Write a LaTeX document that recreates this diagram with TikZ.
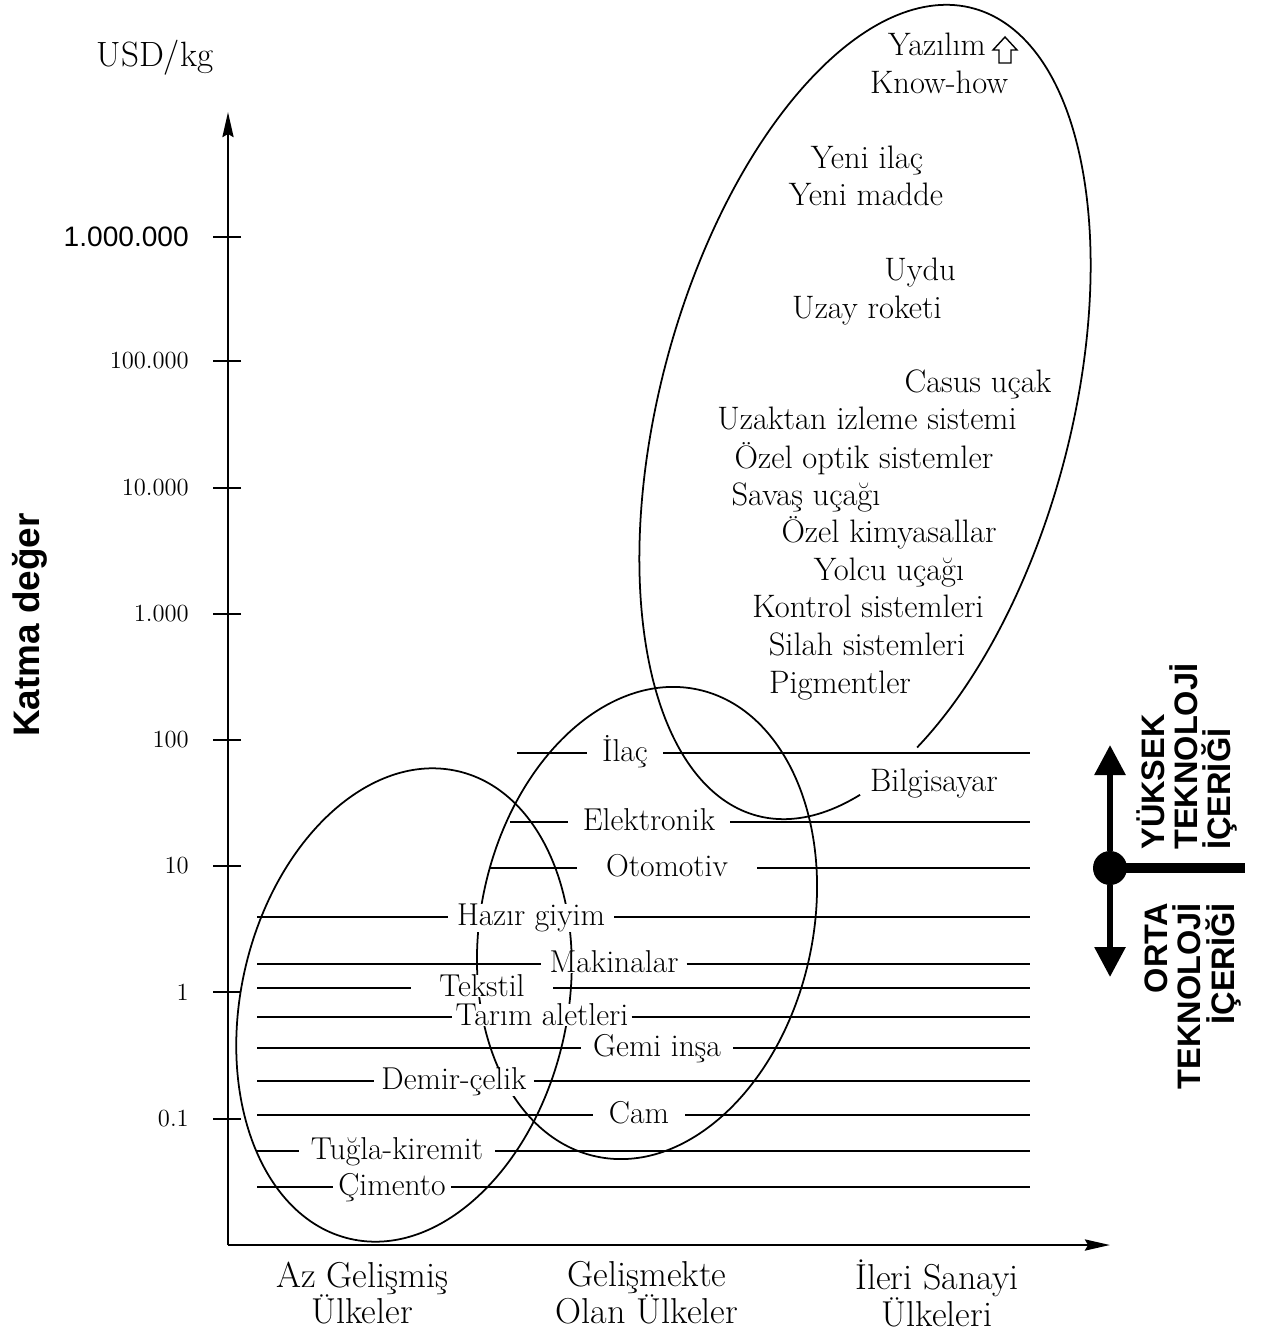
\documentclass[tikz,border=0pt]{standalone}
\usepackage{fontspec}
\usepackage{tikz}
\usetikzlibrary{arrows.meta}
\newfontfamily\headfont{Liberation Sans}

\begin{document}
\begin{tikzpicture}[x=0.02cm, y=-0.02cm,
  curve/.style={line width=1pt},
  row/.style={line width=1pt},
  axis/.style={line width=1.6pt, -{Stealth[length=0.5cm, width=0.22cm, inset=0.06cm]}},
  tick/.style={line width=1pt},
  ticklabel/.style={anchor=east, xshift=-0.35cm, font=\fontsize{14}{16}\selectfont},
  item/.style={fill=white, inner ysep=0pt, anchor=mid, yshift=-0.1cm, font=\fontsize{18}{20}\selectfont},
  tech/.style={anchor=mid, yshift=-0.1cm, font=\fontsize{18.5}{20}\selectfont},
  group/.style={align=center, font=\fontsize{20.5}{21}\selectfont},
  pointer/.style={line width=3.4pt, -{Triangle[length=0.6cm, width=0.6cm]}},
  techhead/.style={inner sep=0pt, font=\headfont\bfseries\fontsize{18.5}{19}\selectfont}]
\useasboundingbox (0,0) rectangle (1261,1334);

\draw[curve, rotate around={-13:(404,1005)}] (404,1005) ellipse[x radius=3.26cm, y radius=4.8cm];
\draw[curve, rotate around={-12.4:(647,923)}] (647,923) ellipse[x radius=3.32cm, y radius=4.78cm];
\draw[curve, shift={(865,412)}, rotate=-15] (-48:4.1cm and 8.36cm)
  arc[start angle=-48, end angle=297.4, x radius=4.1cm, y radius=8.36cm];

\coordinate (O) at (228,1245);
\coordinate (ytip) at (228,112);
\coordinate (xtip) at (1110,1245);
\draw[axis] (O) -- (ytip);
\draw[axis] (O) -- (xtip);
\foreach \y/\v in {237/{\headfont\fontsize{16}{18}\selectfont 1.000.000},361/100.000,488/10.000,614/1.000,740/100,866/10,992/1,1119/0.1}
    \draw[tick] (241,\y) -- (213,\y) node[ticklabel] {\v};

\node[font=\fontsize{20}{22}\selectfont] (unit) at (155,58) {USD/kg};
\node[rotate=90, font=\headfont\bfseries\fontsize{21}{24}\selectfont] (ylab) at (30,625) {Katma değer};
\node[group] (az) at (362,1293) {Az Gelişmiş\\Ülkeler};
\node[group] (gel) at (647,1293) {Gelişmekte\\Olan Ülkeler};
\node[group] (ileri) at (937,1293) {İleri Sanayi\\Ülkeleri};

\foreach \name/\lx/\y/\cx/\txt/\gap in {ilac/517/753/625/İlaç/8.5pt,
    elek/510/822/649/Elektronik/8.5pt, oto/490/868/667/Otomotiv/16.5pt,
    hazir/257/917/531/Hazır giyim/5pt, mak/257/964/614/Makinalar/4.5pt,
    teks/257/988/482/Tekstil/16pt, tarim/257/1017/542/Tarım aletleri/1.7pt,
    gemi/257/1048/657/Gemi inşa/6.8pt, demir/257/1081/454/Demir-çelik/4pt,
    cam/257/1115/639/Cam/9pt, tugla/257/1151/397/Tuğla-kiremit/6.8pt,
    cim/257/1187/392/Çimento/2.8pt}{
  \coordinate (\name-l) at (\lx,\y);
  \coordinate (\name-r) at (1030,\y);
  \node[item, inner xsep=\gap] (\name) at (\cx,\y) {\txt};
  \draw[row] (\name-l) -- (\name-l -| \name.west) (\name.east |- \name-r) -- (\name-r);
}

\node[tech] (yazilim) at (937,47) {Yazılım};
\draw[line width=0.8pt] (1005,37) -- (1017,50) -- (1011,50) -- (1011,63) -- (999,63) -- (999,50) -- (993,50) -- cycle;
\node[tech] (know) at (939,85) {Know-how};
\node[tech] (ilac2) at (867,160) {Yeni ilaç};
\node[tech] (madde) at (866,197) {Yeni madde};
\node[tech] (uydu) at (920,272) {Uydu};
\node[tech] (roket) at (867,310) {Uzay roketi};
\node[tech] (casus) at (978,384) {Casus uçak};
\node[tech] (izleme) at (867,421) {Uzaktan izleme sistemi};
\node[tech] (optik) at (864,460) {Özel optik sistemler};
\node[tech] (savas) at (806,497) {Savaş uçağı};
\node[tech] (kimya) at (889,534) {Özel kimyasallar};
\node[tech] (yolcu) at (889,572) {Yolcu uçağı};
\node[tech] (kontrol) at (868,609) {Kontrol sistemleri};
\node[tech] (silah) at (867,647) {Silah sistemleri};
\node[tech] (pigment) at (840,685) {Pigmentler};
\node[tech] (bilgi) at (934,783) {Bilgisayar};

\node[circle, fill, inner sep=0pt, minimum size=0.68cm] (hub) at (1110,868) {};
\coordinate (hiend) at (1110,745);
\coordinate (loend) at (1110,977);
\coordinate (barend) at (1245,868);
\draw[pointer] (hub) -- (hiend);
\draw[pointer] (hub) -- (loend);
\draw[line width=5.5pt] (hub.center) -- (barend);
\node[techhead, rotate=90, anchor=west, align=left] (hi) at (1187,850) {YÜKSEK\\TEKNOLOJİ\\İÇERİĞİ};
\node[techhead, rotate=90, anchor=east, align=right] (lo) at (1193,903) {ORTA\\TEKNOLOJİ\\İÇERİĞİ};
\end{tikzpicture}
\end{document}
